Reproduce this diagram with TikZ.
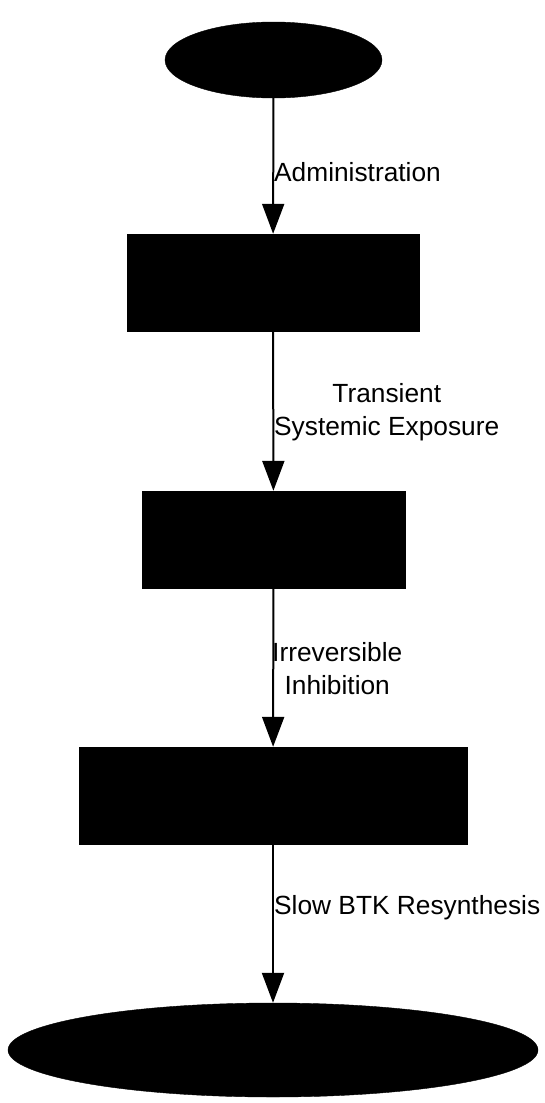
\documentclass[tikz,border=0pt]{standalone}
\usepackage{fontspec}
\setmainfont{Liberation Sans}
\usetikzlibrary{arrows.meta,shapes.geometric}
\begin{document}
\begin{tikzpicture}[x=1pt,y=-1pt,
  blk/.style={fill=black,draw=black,inner sep=0pt},
  conn/.style={line width=2pt,-{Triangle[length=30pt,width=22pt]}},
  lbl/.style={anchor=west,inner sep=0pt,align=center,font=\fontsize{26.3}{33}\selectfont}]
\useasboundingbox (0,0) rectangle (545,1103);
\node[blk,ellipse,minimum width=217pt,minimum height=76pt] (start) at (273.5,60) {};
\node[blk,rectangle,minimum width=292pt,minimum height=97pt] (r1) at (273,282.5) {};
\node[blk,rectangle,minimum width=263pt,minimum height=97pt] (r2) at (273.5,539.5) {};
\node[blk,rectangle,minimum width=388pt,minimum height=97pt] (r3) at (273,795.5) {};
\node[blk,ellipse,minimum width=530pt,minimum height=94pt] (end) at (273,1050) {};
\draw[conn] (start) -- (r1);
\draw[conn] (r1) -- (r2);
\draw[conn] (r2) -- (r3);
\draw[conn] (r3) -- (end);
\node[lbl] (l1) at (274,172) {Administration};
\node[lbl] (l2) at (274,412) {Transient\\Systemic Exposure};
\node[lbl] (l3) at (272,669) {Irreversible\\Inhibition};
\node[lbl] (l4) at (274,908) {Slow BTK Resynthesis};
\end{tikzpicture}
\end{document}
